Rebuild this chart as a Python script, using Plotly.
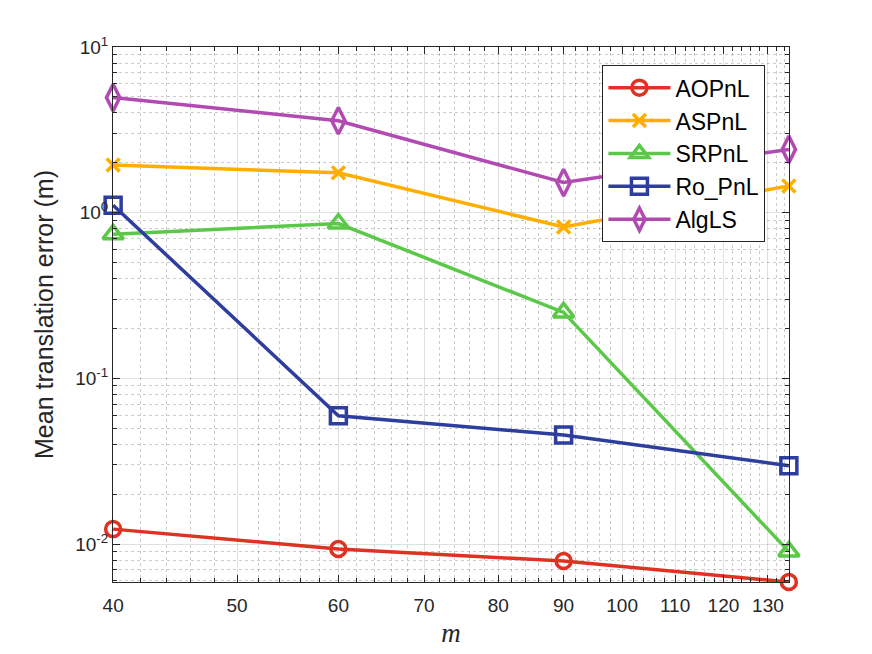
import math
import plotly.graph_objects as go

# ---- data ----
m_values = [40, 60, 90, 135]
aopnl = [0.0123, 0.00933, 0.0079, 0.0059]
aspnl = [1.94, 1.74, 0.82, 1.45]
srpnl = [0.74, 0.86, 0.25, 0.0090]
ro_pnl = [1.11, 0.0595, 0.0455, 0.0297]
alg_ls = [4.95, 3.59, 1.52, 2.41]

series_names = ["AOPnL", "ASPnL", "SRPnL", "Ro_PnL", "AlgLS"]
x_ticks = [40, 50, 60, 70, 80, 90, 100, 110, 120, 130]
y_ticks = [0.01, 0.1, 1, 10]
y_ticktext = ["10<sup>-2</sup>", "10<sup>-1</sup>", "10<sup>0</sup>", "10<sup>1</sup>"]

colors = ["#DE3323", "#FFAE00", "#5CC84A", "#2D3E9E", "#B14BB2"]
symbols = ["circle-open", "x-thin-open", "triangle-up-open", "square-open", "diamond-tall-open"]
sizes = [15, 13, 18, 16, 19]

fig = go.Figure()

for name, ys, col, sym, sz in zip(series_names, [aopnl, aspnl, srpnl, ro_pnl, alg_ls],
                                  colors, symbols, sizes):
    fig.add_trace(go.Scatter(
        x=m_values, y=ys, name=name,
        mode="lines+markers",
        line=dict(color=col, width=3.5),
        marker=dict(symbol=sym, size=sz, color=col, line=dict(color=col, width=3.5)),
        cliponaxis=False,
    ))

# minor ticks
x_minor = [v for v in range(40, 136, 2) if v % 10 != 0]
y_minor = [d * 10.0 ** e for e in range(-3, 1) for d in range(2, 10)]

grid_major = "rgba(0,0,0,0.12)"
grid_minor = "rgba(0,0,0,0.2)"

x_lo, x_hi = math.log10(min(m_values)) - 1e-4, math.log10(max(m_values)) + 1e-4
y_lo = math.log10(min(aopnl)) - 1e-4

fig.update_xaxes(
    type="log", range=[x_lo, x_hi],
    tickmode="array", tickvals=x_ticks,
    ticks="inside", ticklen=7, tickcolor="#262626",
    showline=True, linecolor="#262626", linewidth=1, mirror="ticks",
    showgrid=True, gridcolor=grid_major, gridwidth=1,
    minor=dict(tickmode="array", tickvals=x_minor, ticks="inside", ticklen=4,
               tickcolor="#262626", showgrid=True, gridcolor=grid_minor, griddash="dot"),
    tickfont=dict(family="Liberation Sans", size=19, color="#262626"),
    ticklabelstandoff=6,
    title=dict(text="<i>m</i>", font=dict(family="Liberation Serif", size=27, color="#262626"),
               standoff=8),
    zeroline=False,
)
fig.update_yaxes(
    type="log", range=[y_lo, 1.0],
    tickmode="array", tickvals=y_ticks, ticktext=y_ticktext,
    ticks="inside", ticklen=7, tickcolor="#262626",
    showline=True, linecolor="#262626", linewidth=1, mirror="ticks",
    showgrid=True, gridcolor=grid_major, gridwidth=1,
    minor=dict(tickmode="array", tickvals=y_minor, ticks="inside", ticklen=4,
               tickcolor="#262626", showgrid=True, gridcolor=grid_minor, griddash="dot"),
    tickfont=dict(family="Liberation Sans", size=19, color="#262626"),
    title=dict(text="Mean translation error (m)",
               font=dict(family="Liberation Sans", size=25, color="#262626"), standoff=14),
    zeroline=False,
)

fig.update_layout(
    width=872, height=654,
    margin=dict(l=105, r=91, t=39, b=80),
    plot_bgcolor="white", paper_bgcolor="white",
    legend=dict(
        x=0.724, y=0.966, xanchor="left", yanchor="top",
        bgcolor="white", bordercolor="#262626", borderwidth=1,
        font=dict(family="Liberation Sans", size=23, color="black"),
        tracegroupgap=0, itemwidth=62,
    ),
    showlegend=True,
)

fig.write_html("out.html")
